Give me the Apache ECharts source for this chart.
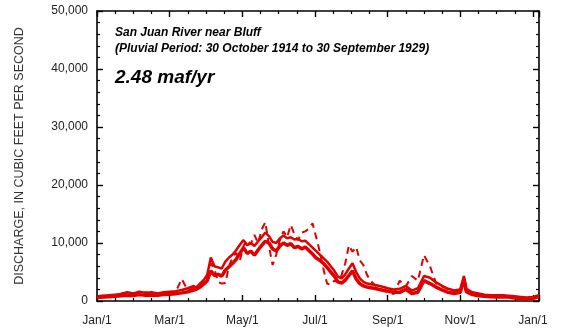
<!DOCTYPE html>
<html>
<head>
<meta charset="utf-8">
<script src="https://cdn.jsdelivr.net/npm/echarts@6/dist/echarts.min.js"></script>
<style>html,body{margin:0;padding:0;background:#fff}#c{width:563px;height:333px}</style>
</head>
<body>
<div id="c"></div>
<script>
// day of year for each reading
var days = [0,5,10,15,20,25,30,35,40,45,50,55,60,65,70,75,80,
  82,85,88,91,94,97,100,103,106,109,112,115,118,121,124,127,130,133,136,139,
  142,145,148,151,154,157,160,163,166,169,172,175,178,181,184,187,190,193,196,199,
  202,205,208,211,214,217,220,223,226,229,
  235,240,245,250,255,260,265,270,275,280,285,290,295,300,303,305,310,315,320,325,330,335,340,345,350,355,360,365];
// mean daily discharge (solid, lower edge of band), cfs
var meanFlow = [600,700,750,800,900,1000,950,1100,1000,1050,1000,1100,1150,1250,1400,1600,1900,
  2000,2400,2900,3500,5200,4400,4600,4300,5300,5900,6500,7200,8200,9200,8200,8600,7900,8800,9600,10300,
  10000,9000,8600,9500,10000,9600,9900,9200,9400,9000,9300,8700,8100,7400,7000,6500,5800,5000,4300,3300,
  3100,3600,4400,5200,3800,3000,2600,2400,2300,2200,
  1900,1700,1500,1500,2000,1300,1500,3500,3000,2400,1900,1500,1300,1500,3800,1600,1100,900,800,750,700,750,700,500,400,350,400,800];
// upper edge of solid band, cfs
var bandFlow = [800,900,1000,1100,1200,1500,1300,1600,1400,1500,1300,1500,1600,1700,1900,2200,2600,
  2300,3000,3600,4500,7500,6000,5800,5600,6800,7500,8000,8800,9700,10500,9600,10000,9500,10300,11000,11800,
  11200,10200,10000,10800,11300,10800,11000,10600,10700,10300,10400,9800,9200,8600,8000,7400,6800,6000,5200,4200,
  3900,4600,5600,6500,5000,3900,3300,3000,2900,2800,
  2500,2200,2000,2100,2600,1800,2200,4300,4000,3200,2600,2100,1800,2000,4300,2100,1500,1300,1100,1000,1000,1000,900,800,700,600,700,1000];
// dashed series, cfs
var dashFlow = [700,900,800,1000,1300,1100,1400,1200,1500,1300,1200,1400,1300,1600,3800,1800,2300,
  2500,2800,3200,3600,6500,5500,3300,3000,3100,6000,7500,8300,7000,9500,10500,9800,11400,10000,12300,13600,
  9500,6200,8000,10500,12000,11000,13100,11500,10500,11800,12000,12500,13400,11000,8500,5500,3000,2800,3500,3200,
  4500,6500,9600,8500,9300,7000,6200,4500,3500,2800,
  2000,1500,1200,3500,2500,4300,3500,7900,6000,3000,2500,2000,1600,1800,2000,2000,1300,1000,900,800,900,800,700,600,500,400,500,900];
// axis tick labels
var xTickDays = [0,60,120,180,240,300,360];
var xTickLabels = ['Jan/1','Mar/1','May/1','Jul/1','Sep/1','Nov/1','Jan/1'];
var yTicks = [0,10000,20000,30000,40000,50000];

function pairs(v){ return days.map(function(d,i){ return [d, v[i]]; }); }
function fmtY(v){ return v.toString().replace(/\B(?=(\d{3})+(?!\d))/g, ','); }
function fmtX(v){ var i = xTickDays.indexOf(v); return i >= 0 ? xTickLabels[i] : ''; }

var RED = '#e00000';
var FONT = 'Liberation Sans, Arial, sans-serif';
var axisLine = {show:true, onZero:false, lineStyle:{color:'#000', width:1.6}};
var xBase = {type:'value', min:0, max:365, interval:60,
  axisLine:axisLine, splitLine:{show:false},
  axisTick:{show:true, inside:true, length:6, lineStyle:{color:'#000', width:1.4}},
  minorTick:{show:true, splitNumber:4, length:3, lineStyle:{color:'#000', width:1.2}},
  minorSplitLine:{show:false}};
var yBase = {type:'value', min:yTicks[0], max:yTicks[yTicks.length-1], interval:10000,
  axisLine:axisLine, splitLine:{show:false},
  axisTick:{show:true, inside:true, length:6, lineStyle:{color:'#000', width:1.4}},
  minorTick:{show:true, splitNumber:5, length:3, lineStyle:{color:'#000', width:1.2}},
  minorSplitLine:{show:false}};

var chart = echarts.init(document.getElementById('c'), null, {renderer:'canvas'});
chart.setOption({
  animation:false,
  backgroundColor:'#fff',
  grid:{left:97, right:24, top:11, bottom:32},
  xAxis:[
    Object.assign({}, xBase, {position:'bottom',
      axisLabel:{show:true, formatter:fmtX, margin:14, fontSize:12, color:'#222', fontFamily:FONT, showMaxLabel:false}}),
    Object.assign({}, xBase, {position:'top', axisLabel:{show:false}})
  ],
  yAxis:[
    Object.assign({}, yBase, {position:'left',
      name:'DISCHARGE, IN CUBIC FEET PER SECOND', nameLocation:'middle', nameGap:71,
      nameTextStyle:{fontSize:12.5, color:'#333', fontFamily:FONT},
      axisLabel:{show:true, formatter:fmtY, margin:9, fontSize:12, color:'#222', fontFamily:FONT}}),
    Object.assign({}, yBase, {position:'right', axisLabel:{show:false}})
  ],
  title:[
    {text:'San Juan River near Bluff', left:110, top:22,
      textStyle:{fontSize:12, fontWeight:'bold', fontStyle:'italic', color:'#000', fontFamily:FONT}},
    {text:'(Pluvial Period: 30 October 1914 to 30 September 1929)', left:110, top:38,
      textStyle:{fontSize:12, fontWeight:'bold', fontStyle:'italic', color:'#000', fontFamily:FONT}},
    {text:'2.48 maf/yr', left:110, top:63,
      textStyle:{fontSize:19, fontWeight:'bold', fontStyle:'italic', color:'#000', fontFamily:FONT}}
  ],
  series:[
    {type:'line', data:pairs(dashFlow), symbol:'none', xAxisIndex:0, yAxisIndex:0,
      lineStyle:{color:RED, width:2, type:[7,5]}},
    {type:'line', data:pairs(bandFlow), symbol:'none', xAxisIndex:0, yAxisIndex:0,
      lineStyle:{color:RED, width:2.5}},
    {type:'line', data:pairs(meanFlow), symbol:'none', xAxisIndex:0, yAxisIndex:0,
      lineStyle:{color:RED, width:3.5}}
  ]
});
</script>
</body>
</html>
